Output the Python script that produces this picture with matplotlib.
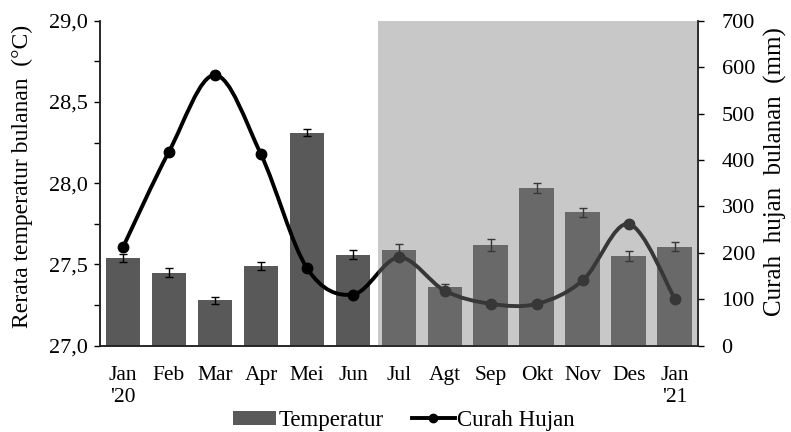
import matplotlib
matplotlib.use("Agg")
import matplotlib.pyplot as plt
import numpy as np
from matplotlib.path import Path
from matplotlib.patches import PathPatch, Patch
from matplotlib.lines import Line2D
from matplotlib.ticker import MultipleLocator, FuncFormatter

months = ["Jan\n'20", "Feb", "Mar", "Apr", "Mei", "Jun", "Jul", "Agt",
          "Sep", "Okt", "Nov", "Des", "Jan\n'21"]
temperature = [27.54, 27.45, 27.28, 27.49, 28.31, 27.56, 27.59, 27.36,
               27.62, 27.97, 27.82, 27.55, 27.61]
temp_err = [0.023, 0.028, 0.022, 0.024, 0.022, 0.029, 0.034, 0.020,
            0.035, 0.029, 0.026, 0.030, 0.030]
rainfall = [212, 418, 583, 412, 167, 110, 190, 118, 90, 90, 141, 262, 100]

plt.rcParams['font.family'] = ['Liberation Serif', 'DejaVu Serif']
plt.rcParams['font.size'] = 15

fig = plt.figure(figsize=(7.91, 4.32), dpi=100)
ax = fig.add_axes([0.1264, 0.2, 0.756, 0.752])
ax2 = ax.twinx()

x = np.arange(len(months))
bar_color = '#595959'
ax.bar(x, temperature, width=0.76, color=bar_color, zorder=1)
ax.errorbar(x, temperature, yerr=temp_err, fmt='none', ecolor='black',
            elinewidth=1.0, capsize=3.2, capthick=1.0, zorder=2)

ax.set_xlim(-0.5, len(months) - 0.5)
ax.set_ylim(27.0, 29.0)
ax.yaxis.set_major_locator(MultipleLocator(0.25))
ax.yaxis.set_major_formatter(FuncFormatter(
    lambda v, p: (f"{v:.1f}".replace('.', ',')) if abs(v * 2 - round(v * 2)) < 1e-6 else ""))
ax.set_xticks(x)
ax.set_xticklabels(months, fontsize=15.5)
ax.tick_params(axis='x', length=0, pad=15)
ax.tick_params(axis='y', direction='out', length=4, width=1, pad=5, labelsize=16)
ax.set_ylabel("Rerata temperatur bulanan  (\u00b0C)", fontsize=17)
ax.yaxis.set_label_coords(-0.129, 0.52)
ax.yaxis.label.set_va('center')

# smooth (Catmull-Rom style) curve through the rainfall points
pts = np.column_stack([x, rainfall]).astype(float)
ext = np.vstack([pts[0], pts, pts[-1]])
verts = [tuple(pts[0])]
codes = [Path.MOVETO]
for i in range(len(pts) - 1):
    p0, p1, p2, p3 = ext[i], ext[i + 1], ext[i + 2], ext[i + 3]
    c1 = p1 + (p2 - p0) / 6.0
    c2 = p2 - (p3 - p1) / 6.0
    verts += [tuple(c1), tuple(c2), tuple(p2)]
    codes += [Path.CURVE4] * 3
curve = PathPatch(Path(verts, codes), facecolor='none', edgecolor='black',
                  lw=2.8, zorder=2, capstyle='round', joinstyle='round')
ax2.add_patch(curve)
ax2.plot(x, rainfall, linestyle='none', marker='o', markersize=7.5,
         color='black', zorder=2.05)

ax2.set_ylim(0, 700)
ax2.yaxis.set_major_locator(MultipleLocator(100))
ax2.tick_params(axis='y', direction='out', length=4, width=1, pad=13, labelsize=16)
ax2.set_ylabel("Curah  hujan  bulanan  (mm)", fontsize=18, rotation=90)
ax2.yaxis.set_label_coords(1.129, 0.535)
ax2.yaxis.label.set_va('center')

# shaded period (semi-transparent overlay)
ax2.axvspan(5.55, len(months) - 0.5, color='#808080', alpha=0.43, lw=0, zorder=2.2)

for a in (ax, ax2):
    for s in a.spines.values():
        s.set_linewidth(1.1)
        s.set_color('#222222')
    a.spines['top'].set_visible(False)

handles = [Patch(facecolor=bar_color, edgecolor='none'),
           Line2D([0], [0], color='black', lw=2.8, marker='o', markersize=6)]
fig.legend(handles, ["Temperatur", "Curah Hujan"], loc='lower center',
           bbox_to_anchor=(0.511, -0.045), ncol=2, frameon=False, fontsize=16.5,
           handlelength=1.85, handletextpad=0.12, columnspacing=1.25,
           handleheight=0.55)

fig.savefig("out.png", dpi=100)
